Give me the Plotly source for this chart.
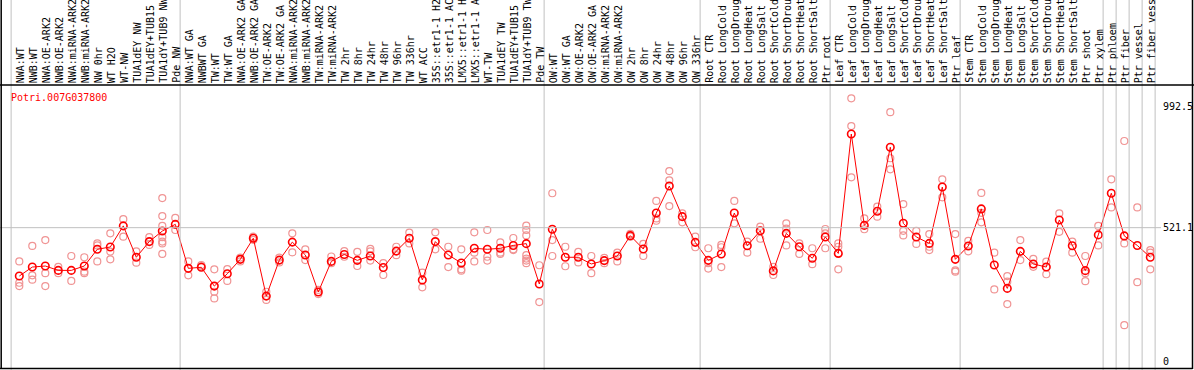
import plotly.graph_objects as go

categories = [
    "NWA:WT", "NWB:WT", "NWA:OE-ARK2", "NWB:OE-ARK2", "NWA:miRNA-ARK2", "NWB:miRNA-ARK2",
    "NW 0hr", "WT H2O", "WT-NW", "TUA1dEY NW", "TUA1dEY+TUB15", "TUA1dY+TUB9 NW", "Pde NW",
    "NWA:WT GA", "NWBWT GA", "TW:WT", "TW:WT GA", "NWA:OE-ARK2 GA", "NWB:OE-ARK2 GA",
    "TW:OE-ARK2", "TW:OE-ARK2 GA", "NWA:miRNA-ARK2", "NWB:miRNA-ARK2", "TW:miRNA-ARK2",
    "TW:miRNA-ARK2", "TW 2hr", "TW 8hr", "TW 24hr", "TW 48hr", "TW 96hr", "TW 336hr",
    "WT ACC", "35S::etr1-1 H2O", "35S::etr1-1 ACC", "LMX5::etr1-1 H2O", "LMX5::etr1-1 ACC",
    "WT-TW", "TUA1dEY TW", "TUA1dEY+TUB15", "TUA1dY+TUB9 TW", "Pde TW",
    "OW:WT", "OW:WT GA", "OW:OE-ARK2", "OW:OE-ARK2 GA", "OW:miRNA-ARK2", "OW:miRNA-ARK2",
    "OW 2hr", "OW 8hr", "OW 24hr", "OW 48hr", "OW 96hr", "OW 336hr",
    "Root CTR", "Root LongCold", "Root LongDrought", "Root LongHeat", "Root LongSalt",
    "Root ShortCold", "Root ShortDrought", "Root ShortHeat", "Root ShortSalt", "Ptr root",
    "Leaf CTR", "Leaf LongCold", "Leaf LongDrought", "Leaf LongHeat", "Leaf LongSalt",
    "Leaf ShortCold", "Leaf ShortDrought", "Leaf ShortHeat", "Leaf ShortSalt", "Ptr leaf",
    "Stem CTR", "Stem LongCold", "Stem LongDrought", "Stem LongHeat", "Stem LongSalt",
    "Stem ShortCold", "Stem ShortDrought", "Stem ShortHeat", "Stem ShortSalt", "Ptr shoot",
    "Ptr xylem", "Ptr phloem", "Ptr fiber", "Ptr vessel", "Ptr fiber vessel",
]

group_starts = [0, 13, 41, 53, 63, 73, 84, 85, 86, 87, 88]

means = [
    333, 368, 372, 355, 355, 372, 437, 446, 528, 406, 467, 508, 534,
    363, 367, 294, 342, 398, 480, 255, 395, 465, 415, 271, 390, 417, 394, 411,
    366, 430, 480, 318, 467, 415, 384, 441, 437, 441, 452, 459, 302,
    515, 406, 406, 380, 393, 411, 490, 438, 578, 683, 564, 464,
    394, 419, 578, 451, 509, 353, 499, 447, 402, 485,
    421, 885, 530, 585, 834, 538, 485, 460, 679, 398,
    450, 594, 376, 285, 429, 380, 368, 551, 451, 354, 493,
    655, 489, 452, 406,
]

replicates = [
    [390, 307, 294], [450, 336, 319], [473, 344, 294], [369, 344], [411, 314],
    [406, 350, 344], [460, 452, 390], [499, 428, 398], [554, 486], [429, 385],
    [484, 454], [636, 566, 528, 484, 467, 460, 419], [559, 512],
    [390, 336], [376, 372], [359, 272, 246], [360, 314], [405, 390], [486, 474],
    [272, 240], [405, 386], [499, 425], [437, 395], [279, 263], [409, 383],
    [430, 408], [427, 372], [439, 429, 393], [383, 337], [447, 414], [502, 460],
    [346, 289], [503, 437], [447, 368], [437, 359, 354], [503, 424, 390],
    [512, 408, 393], [464, 424, 419], [481, 437, 434],
    [529, 512, 491, 414, 401, 393, 383], [375, 232],
    [655, 473, 411], [447, 371], [427, 386], [411, 344], [404, 383], [424, 390],
    [497, 486], [458, 411], [625, 557, 548], [741, 705, 605], [577, 542], [486, 445],
    [441, 383, 362], [454, 445, 368], [625, 538], [467, 424], [525, 478], [369, 337],
    [538, 517, 452], [460, 419], [441, 379], [516, 499, 441],
    [460, 447, 359], [1024, 916, 717], [557, 515], [603, 564], [970, 791, 748],
    [613, 509, 491], [509, 458], [496, 447, 434], [709, 639], [496, 355, 350],
    [470, 429], [656, 579, 542], [424, 281], [333, 311, 224], [473, 395], [400, 369],
    [389, 340], [577, 505], [467, 424], [411, 344, 313], [528, 452],
    [709, 600], [858, 460, 142], [600, 309], [434, 424, 359],
]

axis_labels = ["992.5", "521.1", "0"]
axis_values = [992.5, 521.1, 0]
gene_name = "Potri.007G037800"

W, H = 1194, 370
TOP, BOTTOM = 85, 369
X0, DX = 19.3, 13.0
Y_TOP, Y_BOT = 1075.8, -28.4

x_idx = list(range(len(categories)))
rx, ry = [], []
for i, reps in enumerate(replicates):
    for v in reps:
        rx.append(i)
        ry.append(v)

fig = go.Figure()
fig.add_trace(go.Scatter(
    x=rx, y=ry, mode="markers",
    marker=dict(symbol="circle-open", size=7, color="#f09494", line=dict(width=1.2)),
    showlegend=False, hoverinfo="skip", cliponaxis=False,
))
fig.add_trace(go.Scatter(
    x=x_idx, y=means, mode="lines+markers",
    line=dict(color="#ff0000", width=1),
    marker=dict(symbol="circle-open", size=7.5, color="#ff0000", line=dict(width=1.6)),
    showlegend=False, hoverinfo="skip", cliponaxis=False,
))

header_top = 1 + (TOP) / (BOTTOM - TOP)
shapes = []
for s in group_starts:
    xv = s - 0.63
    shapes.append(dict(type="line", xref="x", yref="paper", x0=xv, x1=xv,
                       y0=-0.01, y1=header_top, line=dict(color="#c0c0c0", width=1)))
# horizontal gridline at the mean value
shapes.append(dict(type="line", xref="paper", yref="y", x0=0, x1=1161 / W,
                   y0=axis_values[1], y1=axis_values[1], line=dict(color="#c0c0c0", width=1)))
# frame
shapes.append(dict(type="line", xref="paper", yref="paper", x0=0, x1=1, y0=1, y1=1,
                   line=dict(color="black", width=1.5)))
shapes.append(dict(type="line", xref="paper", yref="paper", x0=0, x1=1192.5 / W,
                   y0=0.0015, y1=0.0015, line=dict(color="black", width=1.5)))
shapes.append(dict(type="line", xref="paper", yref="paper", x0=1.2 / W, x1=1.2 / W,
                   y0=0, y1=header_top, line=dict(color="black", width=1.5)))
shapes.append(dict(type="line", xref="paper", yref="paper", x0=1192.5 / W, x1=1192.5 / W,
                   y0=0, y1=header_top, line=dict(color="black", width=1.5)))

annotations = []
for i, c in enumerate(categories):
    annotations.append(dict(
        text=c, x=i, xref="x", y=1, yref="paper", textangle=-90,
        xanchor="center", yanchor="bottom", showarrow=False, xshift=1,
        font=dict(family="DejaVu Sans Mono", size=10, color="black"),
    ))
for lab, v in zip(axis_labels, axis_values):
    annotations.append(dict(
        text=lab, x=1161 / W, xref="paper", y=v, yref="y",
        xanchor="left", yanchor="middle", showarrow=False,
        font=dict(family="DejaVu Sans Mono", size=10, color="black"),
    ))
annotations.append(dict(
    text=gene_name, x=8.5 / W, xref="paper", y=(BOTTOM - 97) / (BOTTOM - TOP), yref="paper",
    xanchor="left", yanchor="middle", showarrow=False,
    font=dict(family="DejaVu Sans Mono", size=10, color="#ff0000"),
))

fig.update_layout(
    width=W, height=H,
    margin=dict(l=0, r=0, t=TOP, b=H - BOTTOM, pad=0),
    paper_bgcolor="white", plot_bgcolor="white",
    xaxis=dict(range=[-X0 / DX, (W - X0) / DX], showgrid=False, zeroline=False,
               showticklabels=False, showline=False, fixedrange=True),
    yaxis=dict(range=[Y_BOT, Y_TOP], showgrid=False, zeroline=False,
               showticklabels=False, showline=False, fixedrange=True),
    shapes=shapes, annotations=annotations, showlegend=False,
)

fig.write_html("out.html", config={"displayModeBar": False},
               post_script="document.body.style.margin='0px';document.body.style.overflow='hidden';")
